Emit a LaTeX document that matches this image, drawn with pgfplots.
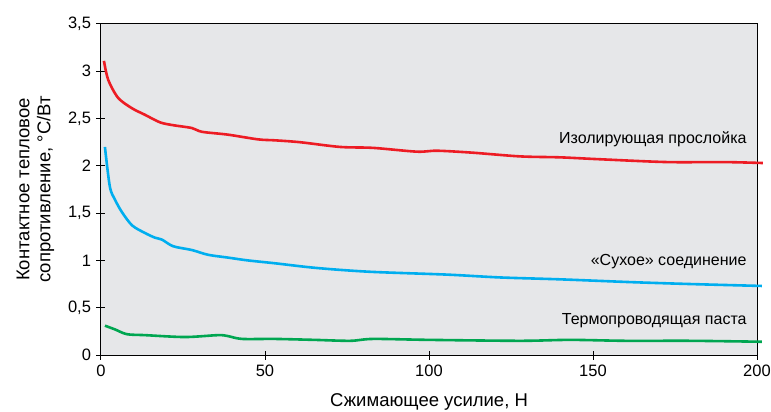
\documentclass[border=0pt]{standalone}
\usepackage{pgfplots}
\pgfplotsset{compat=1.18}
\usepackage{fontspec}
\setmainfont{Liberation Sans}
\definecolor{bgray}{HTML}{E6E7E9}
\definecolor{cred}{HTML}{ED1C24}
\definecolor{cblue}{HTML}{00AEEF}
\definecolor{cgreen}{HTML}{00A651}
\begin{document}
\fontsize{16}{19}\selectfont
\begin{tikzpicture}
\begin{axis}[
    at={(0,0)}, anchor=south west,
    scale only axis,
    width=656pt, height=331pt,
    xmin=0, xmax=200, ymin=0, ymax=3.5,
    xtick={0,50,100,150,200},
    ytick={0,0.5,1,1.5,2,2.5,3,3.5},
    yticklabels={0,{0,5},1,{1,5},2,{2,5},3,{3,5}},
    /pgf/number format/assume math mode=true,
    tick align=center,
    major tick length=9pt,
    tick style={black, line width=1pt},
    xtick pos=bottom, ytick pos=left,
    axis background/.style={fill=bgray},
    axis line style={black, line width=1pt},
    clip=false,
    tick label style={font=\fontsize{16.5}{19}\selectfont},
    label style={font=\fontsize{18.5}{21}\selectfont},
    xlabel={Сжимающее усилие, Н},
    ylabel={Контактное тепловое\\сопротивление, °С/Вт},
    ylabel style={align=center, at={(ticklabel cs:0.5)}, yshift=3pt},
    xlabel style={yshift=-6pt},
    every axis plot/.append style={line width=2.6pt, no marks, smooth},
]
\addplot[cred] coordinates {
(0.9,3.11) (2.2,2.91) (5.2,2.72) (9.4,2.61) (13.4,2.54) (18,2.46)
(22,2.43) (27.7,2.40) (30.8,2.36) (38.7,2.33) (47.9,2.28) (53,2.27)
(60.7,2.25) (72.9,2.20) (83,2.19) (96.3,2.15) (102.4,2.16) (113,2.14)
(127.8,2.10) (140,2.09) (152,2.07) (172.6,2.04) (190,2.04) (201.8,2.03)};
\addplot[cblue] coordinates {
(1.2,2.20) (2.7,1.78) (4.3,1.64) (6.4,1.51) (9.5,1.37) (13.4,1.29)
(16.5,1.24) (18.6,1.22) (22,1.15) (27.7,1.11) (32.6,1.06) (38.7,1.03)
(44.8,1.00) (53,0.97) (65.8,0.92) (82,0.88) (105.5,0.85) (121.7,0.82)
(140,0.80) (162,0.77) (180,0.75) (201.5,0.73)};
\addplot[cgreen] coordinates {
(1.2,0.31) (4.3,0.27) (7.9,0.22) (13.4,0.21) (25.6,0.19) (35.7,0.21)
(38.7,0.20) (43,0.17) (53,0.17) (65,0.16) (76,0.15) (83,0.17)
(100,0.16) (127.8,0.15) (143,0.16) (160,0.15) (180,0.15) (201.5,0.14)};
\node[anchor=east] at (axis cs:198.5,2.28) {Изолирующая прослойка};
\node[anchor=east] at (axis cs:198.5,0.99) {«Сухое» соединение};
\node[anchor=east] at (axis cs:198.5,0.36) {Термопроводящая паста};
\end{axis}
\pgfresetboundingbox
\path (-101pt,-57pt) rectangle (670pt,355pt);
\end{tikzpicture}
\end{document}
